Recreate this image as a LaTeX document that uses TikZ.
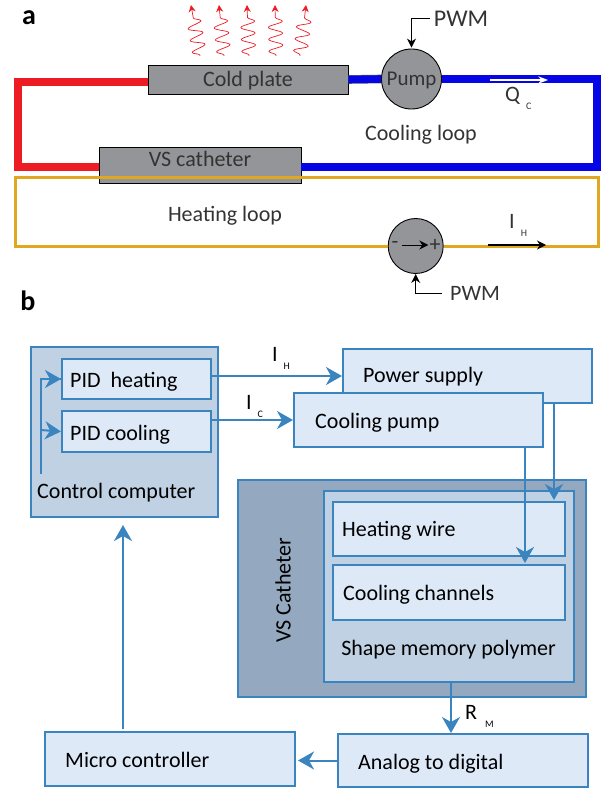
\documentclass[tikz,border=0pt]{standalone}
\usepackage{fontspec}
\setmainfont{Carlito}
\usepackage{xcolor}
\usetikzlibrary{arrows.meta,positioning,decorations.pathmorphing}
\definecolor{flowblue}{HTML}{3A85C0}
\definecolor{lightbox}{HTML}{DEE9F8}
\definecolor{midbox}{HTML}{C0D1E4}
\definecolor{darkbox}{HTML}{94A9C0}
\definecolor{plategray}{HTML}{939598}
\definecolor{pipered}{HTML}{ED1C24}
\definecolor{pipeblue}{HTML}{0505E6}
\definecolor{wireyellow}{HTML}{E0A820}
\definecolor{labelgray}{HTML}{333333}
\newcommand{\subl}[3][6pt]{#2\hspace{#1}\raisebox{-8pt}{\fontsize{10}{10}\selectfont #3}}

\begin{document}
\begin{tikzpicture}[x=1pt,y=-1pt,>=Stealth,
  txt/.style={inner sep=0pt,font=\fontsize{22}{24}\selectfont,text=black},
  btxt/.style={txt,yshift=-3pt},
  grytxt/.style={txt,text=labelgray},
  plate/.style={draw=black,line width=0.9pt,fill=plategray,inner sep=0pt,text=labelgray,font=\fontsize{22}{24}\selectfont,text height=16pt,text depth=2pt},
  disc/.style={plate,circle},
  box/.style={draw=flowblue,line width=2pt,fill=lightbox,inner sep=0pt,minimum width=#1},
  box/.default=150pt,
  redpipe/.style={draw=black!75,double=pipered,double distance=7.6pt,line width=0.6pt,line join=miter},
  bluepipe/.style={draw=black!60,double=pipeblue,double distance=7.6pt,line width=0.5pt,line join=miter},
  yellowire/.style={draw=wireyellow,line width=3pt,line join=miter},
  sig/.style={->,line width=0.9pt,black,-{Stealth[length=9pt,width=9pt]}},
  flow/.style={draw=flowblue,line width=2pt,-{Stealth[length=16pt,width=18pt,inset=5pt]}}]
\useasboundingbox (0,0) rectangle (607,789);
% part a
\node[txt,font=\fontsize{28}{30}\selectfont\bfseries] (lettera) at (29,18) {a};
\node[plate,minimum width=200pt,minimum height=29pt] (cold) at (248,79.5) {Cold plate};
\node[plate,minimum width=202pt,minimum height=36pt] (cath) at (200,165) {};
\node[grytxt,below=3pt of cath.north,yshift=-1pt] (cathtxt) {VS catheter};
\node[disc,minimum size=60pt,font=\fontsize{21}{23}\selectfont] (pump) at (411.5,79) {Pump};
\node[disc,minimum size=55pt] (source) at (415.7,246) {};
\draw[redpipe] ([yshift=-2.5pt]cold.west) -- (18,82) -- (18,167) -- ([yshift=-2pt]cath.west);
\draw[bluepipe] (cold.east) -- (pump.west);
\draw[bluepipe] (pump.east) -- (597,79) -- (597,167) -- ([yshift=-2pt]cath.east);
\draw[yellowire] (source.west) -- (15,246) -- (15,177.5) -- (598.5,177.5) -- (598.5,246) -- (source.east);
\node[grytxt] (coolloop) at (421,135) {Cooling loop};
\node[grytxt] (heatloop) at (225,216) {Heating loop};
\node[grytxt,font=\fontsize{24}{26}\selectfont] (pwmtop) at (461,18.5) {PWM};
\node[grytxt] (pwmbot) at (475,293) {PWM};
\draw[sig] ([xshift=-4pt]pwmtop.west) -| ([yshift=1pt]pump.north);
\draw[sig] ([xshift=-8pt]pwmbot.west) -| (source.south);
\node[grytxt] (minus) at (395,245) {-};
\node[grytxt] (plus) at (435,245) {+};
\draw[sig] ([xshift=3pt]minus.east) -- ([xshift=-1pt]plus.west);
\coordinate (qstart) at (490,80); \coordinate (qend) at (548,80);
\draw[->,white,line width=1.5pt] (qstart) -- (qend);
\coordinate (hstart) at (488,245); \coordinate (hend) at (546,245);
\draw[sig,line width=1.5pt] (hstart) -- (hend);
\node[grytxt,anchor=west] (qc) at (505,98) {\subl{Q}{C}};
\node[grytxt,anchor=west] (ih) at (509,225) {\subl{I}{H}};
\foreach \xa/\xb in {200/191,224/219,249/247,276/275,300/306}
  \draw[pipered,line width=0.7pt,-{Stealth[length=7pt,width=7pt]},decorate,decoration={snake,amplitude=7pt,segment length=12pt,pre length=1pt,post length=9pt}] (\xa,56) -- (\xb,5);
% part b
\node[txt,font=\fontsize{28}{30}\selectfont\bfseries] (letterb) at (28,301) {b};
\node[box=187pt,fill=midbox,minimum height=170pt] (control) at (124.5,432) {};
\node[box=149pt,minimum height=40.5pt] (pidh) at (136.5,379) {};
\node[box=149pt,minimum height=41pt] (pidc) at (136.5,431.5) {};
\node[btxt,right=9pt of pidh.west] (pidhtxt) {PID\ \ heating};
\node[btxt,right=9pt of pidc.west] (pidctxt) {PID cooling};
\node[txt,anchor=west] (controltxt) at (37,492.5) {Control computer};
\node[box=249pt,minimum height=54pt] (power) at (467.5,376) {};
\node[txt,right=21pt of power.west,yshift=-1pt] (powertxt) {Power supply};
\node[box=249pt,minimum height=54pt] (coolpump) at (418.5,420) {};
\node[btxt,right=22pt of coolpump.west] (coolpumptxt) {Cooling pump};
\node[box=348pt,fill=darkbox,minimum height=217pt] (vscath) at (412,588.5) {};
\node[txt,rotate=90] (vstxt) at (283,590) {VS Catheter};
\node[box=250pt,fill=midbox,minimum height=191pt] (smp) at (449,586.5) {};
\node[box=232pt,minimum height=54pt] (hwire) at (449,529) {};
\node[btxt,right=10pt of hwire.west,yshift=1pt] (hwiretxt) {Heating wire};
\node[box=232pt,minimum height=55pt] (cchan) at (449,592) {};
\node[btxt,right=11pt of cchan.west] (cchantxt) {Cooling channels};
\node[txt] (smptxt) at (448.5,650) {Shape memory polymer};
\node[box=250pt,minimum height=53pt] (adc) at (463,760.5) {};
\node[btxt,right=21pt of adc.west] (adctxt) {Analog to digital};
\node[box=250pt,minimum height=54pt] (micro) at (170,759) {};
\node[txt,right=21pt of micro.west,yshift=-1pt] (microtxt) {Micro controller};
\coordinate (junction) at (40.5,474);
\draw[draw=flowblue,line width=2pt] (junction) |- (pidh.west);
\draw[flow] (40.5,379) -- (pidh.west);
\draw[flow] (40.5,430) -- (pidc.west);
\draw[flow] (pidh.east |- power.west) -- (power.west);
\draw[flow] (pidc.east |- coolpump.west) -- (coolpump.west);
\draw[flow] (554,403) -- (554,500);
\draw[flow] (525,447) -- (525,563);
\draw[flow] ([xshift=2pt]smp.south) -- ([xshift=2pt]smp.south |- adc.north);
\draw[flow] (adc.west) -- ([xshift=2pt]micro.east |- adc.west);
\draw[flow] (123,729) -- ([yshift=-8pt]123,517);
\node[txt,anchor=west] (ihb) at (272,358) {\subl{I}{H}};
\node[txt,anchor=west] (icb) at (246,406) {\subl{I}{C}};
\node[txt,anchor=west] (rm) at (465,716) {\subl[8pt]{R}{M}};
\end{tikzpicture}
\end{document}
